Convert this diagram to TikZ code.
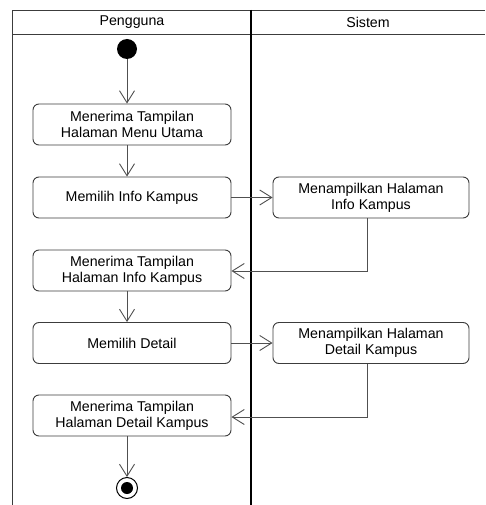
\documentclass[tikz,border=0pt]{standalone}
\usepackage{fontspec}
\setmainfont{Liberation Sans}
\usetikzlibrary{arrows.meta}
\definecolor{boxline}{HTML}{3C3C3C}
\definecolor{flowline}{HTML}{505050}
\begin{document}
\begin{tikzpicture}[x=1pt,y=-1pt,
  font=\fontsize{14.2}{16}\selectfont,
  lane/.style={draw=boxline,line width=0.9pt},
  act/.style={draw=boxline,line width=0.9pt,rounded corners=6pt,
    minimum height=41pt,align=center,inner sep=0pt},
  flow/.style={draw=flowline,line width=0.9pt,
    -{Straight Barb[length=12pt,width=15pt,line width=0.9pt]}},
  startnode/.style={circle,fill=black,minimum size=20pt,inner sep=0pt},
  endnode/.style={circle,draw=black,line width=1pt,minimum size=21pt,inner sep=0pt,
    path picture={\fill[black] (path picture bounding box.center) circle (6pt);}}]
\useasboundingbox (0,0) rectangle (485,505);
\fill[white] (0,0) rectangle (485,505);
% swimlane frame and headers
\draw[lane] (12.5,505) -- (12.5,10) -- (485,10);
\draw[lane] (12.5,34) -- (485,34);
\draw[black,line width=2pt] (251,10) -- (251,505);
\node (hUser) at (132,22) {Pengguna};
\node (hSys) at (368,22) {Sistem};
% activities
\node[startnode] (start) at (127,49) {};
\node[act,minimum width=198pt] (a1) at (132,124.5) {Menerima Tampilan\\Halaman Menu Utama};
\node[act,minimum width=198pt] (a2) at (132,197.5) {Memilih Info Kampus};
\node[act,minimum width=196pt] (a3) at (371,197.5) {Menampilkan Halaman\\Info Kampus};
\node[act,minimum width=198pt] (a4) at (132,270.5) {Menerima Tampilan\\Halaman Info Kampus};
\node[act,minimum width=198pt] (a5) at (132,343) {Memilih Detail};
\node[act,minimum width=196pt] (a6) at (371,343) {Menampilkan Halaman\\Detail Kampus};
\node[act,minimum width=198pt] (a7) at (132,415.5) {Menerima Tampilan\\Halaman Detail Kampus};
\node[endnode] (finish) at (127,488) {};
% bend points of the return flows
\coordinate (r1) at (367,271);
\coordinate (r2) at (367,417);
% flows
\draw[flow] (start) -- (start |- a1.north);
\draw[flow] (start |- a1.south) -- (start |- a2.north);
\draw[flow] (a2) -- (a3);
\draw[flow] (r1 |- a3.south) -- (r1) -- (r1 -| a4.east);
\draw[flow] (start |- a4.south) -- (start |- a5.north);
\draw[flow] (a5) -- (a6);
\draw[flow] (r2 |- a6.south) -- (r2) -- (r2 -| a7.east);
\draw[flow] (start |- a7.south) -- (finish);
\end{tikzpicture}
\end{document}
